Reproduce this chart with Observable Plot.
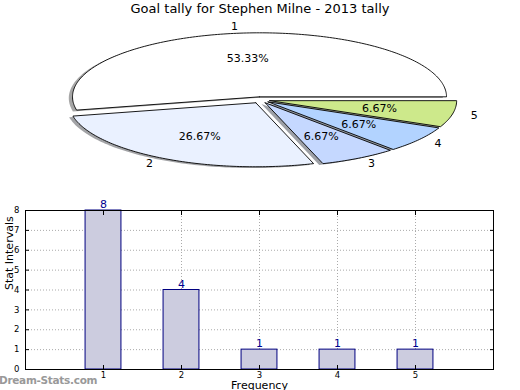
<!DOCTYPE html>
<html><head><meta charset="utf-8">
<script src="https://cdn.jsdelivr.net/npm/d3@7"></script>
<script src="https://cdn.jsdelivr.net/npm/@observablehq/plot@0.6"></script>
<style>
body{margin:0;background:#fff;font-family:"DejaVu Sans",sans-serif;}
#wrap{position:relative;width:520px;height:390px;overflow:hidden;background:#fff}
#pie{position:absolute;left:0;top:0}
#bar{position:absolute;left:0;top:195px}
#title{position:absolute;left:0;width:520px;top:1px;text-align:center;font-size:13px;color:#000}
#wm{position:absolute;left:-1px;top:374px;font-size:10.5px;color:#999;font-weight:bold;letter-spacing:-0.3px;white-space:nowrap}
</style></head><body>
<div id="wrap"><div id="pie"></div><div id="bar"></div><div id="title">Goal tally for Stephen Milne - 2013 tally</div><div id="wm">Dream-Stats.com</div></div>
<script>
// ---- data ----
const categories = [1, 2, 3, 4, 5];
const counts = [8, 4, 1, 1, 1];
const sliceColors = ["#ffffff", "#eaf1ff", "#c5d8ff", "#b2d3ff", "#cde98b"];
const xTicks = [1, 2, 3, 4, 5];
const yTicks = [0, 1, 2, 3, 4, 5, 6, 7, 8];

// ---- pie (flattened, exploded, with shadow) ----
const W = 520, PH = 195;
const cx = 260, cy = 99.5, rx = 187, ry = 64;
const explode = 0.05, shOff = 0.02;
const total = d3.sum(counts);
let a0 = 0;
const slices = counts.map((c, i) => {
  const span = c / total * 360;
  const s = {i, cat: categories[i], count: c, start: a0, end: a0 + span, color: sliceColors[i]};
  a0 += span;
  const mid = (s.start + s.end) / 2 * Math.PI / 180;
  s.ox = explode * Math.cos(mid);
  s.oy = explode * Math.sin(mid);
  s.mid = mid;
  return s;
});
function wedge(s, dx, dy) {
  const pts = [{x: s.ox + dx, y: s.oy + dy}];
  const n = Math.max(2, Math.ceil(s.end - s.start));
  for (let k = 0; k <= n; k++) {
    const a = (s.start + (s.end - s.start) * k / n) * Math.PI / 180;
    pts.push({x: s.ox + dx + Math.cos(a), y: s.oy + dy + Math.sin(a)});
  }
  pts.push({x: s.ox + dx, y: s.oy + dy});
  return pts;
}
function shade(c) {
  const r = d3.rgb(c);
  return d3.rgb(r.r * 0.3, r.g * 0.3, r.b * 0.3).formatHex();
}
const pieMarks = [];
slices.forEach(s => pieMarks.push(Plot.line(wedge(s, -shOff, -shOff), {x: "x", y: "y", fill: shade(s.color), fillOpacity: 0.5, stroke: "none"})));
slices.forEach(s => pieMarks.push(Plot.line(wedge(s, 0, 0), {x: "x", y: "y", fill: s.color, stroke: "#000", strokeWidth: 0.9})));
const pctLabels = slices.map(s => ({x: s.ox + 0.6 * Math.cos(s.mid), y: s.oy + 0.6 * Math.sin(s.mid), t: (s.count / total * 100).toFixed(2) + "%"}));
const catLabels = slices.map(s => ({x: s.ox + 1.1 * Math.cos(s.mid), y: s.oy + 1.1 * Math.sin(s.mid), t: String(s.cat), anchor: Math.cos(s.mid) > 0 ? "start" : "end"}));
pieMarks.push(Plot.text(pctLabels, {x: "x", y: "y", text: "t", fontSize: 11, fill: "#000"}));
pieMarks.push(Plot.text(catLabels.filter(d => d.anchor === "start"), {x: "x", y: "y", text: "t", fontSize: 11, fill: "#000", textAnchor: "start"}));
pieMarks.push(Plot.text(catLabels.filter(d => d.anchor === "end"), {x: "x", y: "y", text: "t", fontSize: 11, fill: "#000", textAnchor: "end"}));

const pie = Plot.plot({
  width: W, height: PH, margin: 0,
  x: {domain: [(0 - cx) / rx, (W - cx) / rx], axis: null},
  y: {domain: [(cy - PH) / ry, cy / ry], axis: null},
  style: {fontFamily: "DejaVu Sans", background: "transparent", overflow: "visible"},
  marks: pieMarks
});
document.getElementById("pie").appendChild(pie);

// ---- bar chart ----
const barData = categories.map((c, i) => ({cat: c, count: counts[i]}));
const halfW = 0.23;
const bar = Plot.plot({
  width: W, height: 195,
  marginTop: 15, marginBottom: 21, marginLeft: 25, marginRight: 27,
  x: {domain: [0, 6]},
  y: {domain: [0, 8]},
  style: {fontFamily: "DejaVu Sans", background: "transparent", overflow: "visible", fontSize: "9px", color: "#000"},
  marks: [
    Plot.gridX(xTicks, {stroke: "#aaa", strokeOpacity: 1, strokeDasharray: "1,2"}),
    Plot.gridY(yTicks.slice(1, -1), {stroke: "#aaa", strokeOpacity: 1, strokeDasharray: "1,2"}),
    Plot.rectY(barData, {x1: d => d.cat - halfW, x2: d => d.cat + halfW, y: "count", fill: "#ccccdf", stroke: "#000080", strokeWidth: 1}),
    Plot.text(barData, {x: "cat", y: "count", text: d => String(d.count), dy: -6, fill: "#000090", fontSize: 11}),
    Plot.frame({stroke: "#000", strokeWidth: 1}),
    Plot.axisX(xTicks, {anchor: "bottom", tickSize: -4, tickPadding: 6, label: null, fontSize: 8.5}),
    Plot.axisX(xTicks, {anchor: "top", tickSize: -4, tickFormat: () => "", label: null}),
    Plot.axisY(yTicks, {anchor: "left", tickSize: -4, tickPadding: 10, label: null, fontSize: 8.5}),
    Plot.axisY(yTicks, {anchor: "right", tickSize: -4, tickFormat: () => "", label: null}),
    Plot.text(["Stat Intervals"], {frameAnchor: "left", dx: -16, rotate: -90, fontSize: 11, fill: "#000"}),
    Plot.text(["Frequency"], {frameAnchor: "bottom", dy: 19, fontSize: 11, fill: "#000"})
  ]
});
document.getElementById("bar").appendChild(bar);
</script>
</body></html>
